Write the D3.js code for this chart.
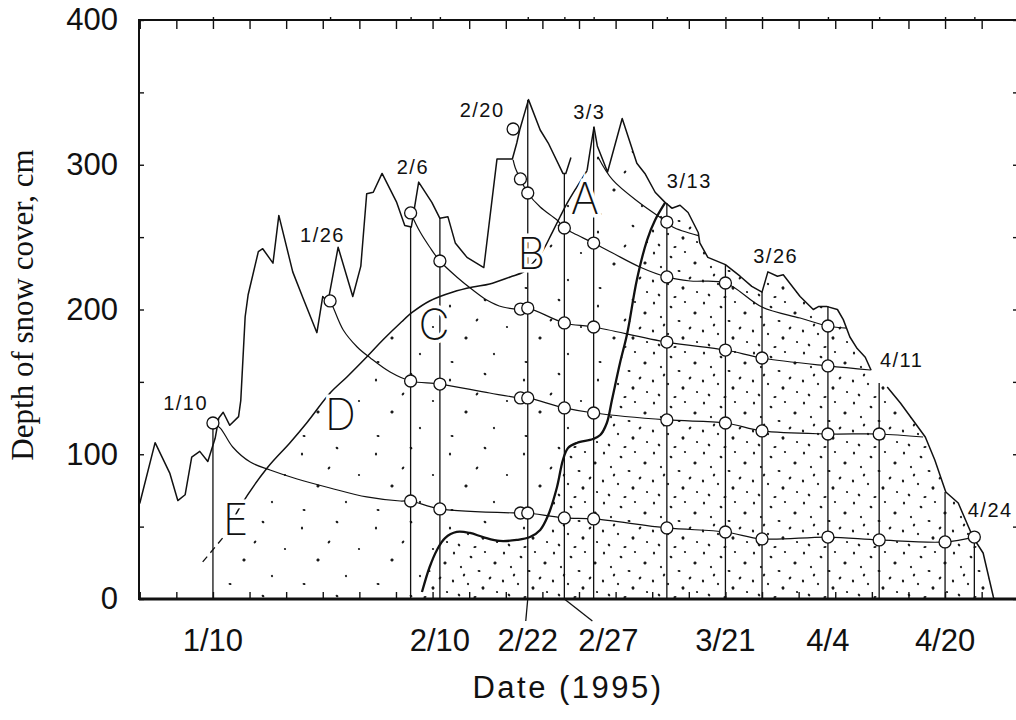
<!DOCTYPE html>
<html>
<head>
<meta charset="utf-8">
<script src="https://cdn.jsdelivr.net/npm/d3@7"></script>
<style>
body { margin: 0; background: #fff; }
</style>
</head>
<body>
<div id="chart"></div>
<script>
var w = 1016;
var h = 720;
var frame = {left: 139, top: 20, right: 1019, bottom: 599};

// dates are day of year 1995 (1/1 = 1), depth in cm
var depthTicks = [0, 100, 200, 300, 400];
var dateTicks = [10, 41, 53, 58, 80, 94, 110];
var dateTickLabels = ["1/10", "2/10", "2/22", "2/27", "3/21", "4/4", "4/20"];

// snow surface, three traced pieces
var surface1 = [[0,66],[2.1,108],[4.1,87],[5.2,68],[6.2,72],[7.1,98],[8.2,102],[9.3,95],[10.3,111],[10.8,125],[11.4,129],[12.3,120],[13.5,126],[13.8,137],[14.4,195],[14.8,210],[16.2,240],[16.8,242],[18.2,232],[19.0,265],[20.9,226],[22.3,208],[24.2,184],[25.0,209],[25.7,205],[27.1,243],[29.1,209],[30.2,230],[31.0,280],[31.9,281],[33.1,294],[35.1,274],[36.2,258],[37.1,257],[38.1,288],[39.9,274],[41.0,263],[42.1,264],[43.1,246],[44.7,236],[47.0,229],[48.8,304],[50.9,304],[51.5,315],[51.9,324],[53.1,345],[54.7,324],[55.8,315],[57.8,294],[58.2,294],[58.9,305]];
var surface2 = [[61.1,296],[61.5,309],[62.05,326],[62.5,313],[63.9,295],[65.9,332],[67.9,301],[69.0,294],[70.4,281],[71.75,274],[72.7,270],[73.8,272],[74.9,267],[76.3,253],[76.5,246],[77.6,236],[80.0,231],[82.0,223],[83.6,216],[85.0,212],[85.8,226],[87.1,223],[87.9,224],[90.2,209],[92.0,200],[92.7,202],[93.9,202],[95.3,200],[96.1,193],[97.0,181],[98.0,173],[99.1,167],[99.9,158]];
var surface3 = [[102.1,146.5],[103.9,135.4],[105.6,123.7],[107.3,111.9],[108.6,96],[110.1,73.9],[111.8,66.3],[113.8,42.8],[115.2,31.8],[116.6,1.4],[116.7,0]];

// boundary of old snow (A-E), dashed start
var boundaryDash = [[8.6,25.6],[11.9,45.6]];
var boundary = [[11.9,45.6],[13.7,63.6],[17.4,90.5],[20.5,107.8],[22.8,121.6],[26.0,142.3],[28.3,153.4],[31.0,167.2],[33.2,178.9],[35.6,190.7],[37.3,198.3],[39.6,205.9],[42.8,212.1],[45.5,215.5],[47.8,217.6],[50.6,222.5],[52.4,225.9],[53.7,232.1],[55.1,241.1],[56.3,252.8],[57.4,263.9],[58.4,273.6],[59.7,284.6],[61.1,296]];

// front of the densely dotted zone
var wetFront = [[38.55,4.8],[39.6,22.1],[40.6,33.9],[41.7,42.1],[43.3,46.3],[45.1,45.6],[46.9,42.8],[49.2,40.1],[51.5,40.8],[53.3,42.8],[54.7,47.7],[55.8,58.0],[57.0,77.4],[57.8,96.0],[58.5,104.3],[59.7,107.8],[61.9,110.5],[62.9,113.3],[63.8,121.6],[64.5,137.5],[65.6,163.0],[66.6,183.8],[67.9,220.4],[69.3,248.0],[70.4,261.8],[71.75,273.6]];

// layer tracking lines
var layer0110 = [[10,121.6],[11.0,118.1],[12.7,105.0],[15.1,94.6],[17.8,89.1],[21.5,82.9],[26.0,76.7],[31.0,70.5],[35.6,67.7],[37,67.7],[41,62.2],[52,59.4],[53,59.4],[58,56.0],[62,55.3],[72,49.1],[80,46.3],[85,41.5],[94,42.8],[101,40.8],[110,39.4],[114,42.8]];
var layer0126 = [[26,205.9],[26.4,201.7],[27.8,185.8],[29.7,174.1],[31.5,166.5],[34.2,156.8],[37,150.6],[41,148.5],[47.8,142.3],[52,138.9],[53,138.9],[58,132.0],[62,128.5],[72,123.7],[80,121.6],[85,116.1],[94,114.0],[101,114.0],[107,111.9]];
var layer0206 = [[37,266.7],[38.3,253.5],[39.6,243.2],[41,233.5],[43.3,222.5],[45.5,213.5],[47.4,206.6],[49.6,201.7],[52,200.3],[53,201.0],[58,190.7],[62,187.9],[72,177.5],[80,172.0],[85,166.5],[94,161.0],[99.8,158.2]];
var layer0220 = [[51.0,303.3],[51.3,297.8],[52,290.2],[53,280.5],[54.7,270.8],[57.0,261.8],[58,256.3],[59.2,252.8],[62,245.9],[64.6,239.0],[68.3,229.4],[72,222.5],[75.2,219.7],[80,218.3],[85,201.7],[90.2,194.1],[94,188.6],[96.6,187.2]];
var layer0303 = [[62.6,305.4],[64.6,289.5],[68.3,273.6],[72,260.4],[72.8,257.0],[76.3,251]];

// pit observations
var pitDates = [10, 37, 41, 53, 58, 62, 72, 80, 85, 94, 101, 110, 114];
var pitTops = [121.6, 257.7, 263.2, 344.7, 294.3, 326.1, 273.6, 230.7, 212.1, 202.4, 149.2, 73.9, 42.8];
var markDates = [10, 26, 37, 41, 53, 58, 62, 72, 80, 85, 94, 101, 110, 114];

var circles = [[10,121.6],[26,205.9],[37,266.7],[37,150.6],[37,67.7],[41,233.5],[41,148.5],[41,62.2],[51,324.7],[52,290.2],[52,200.3],[52,138.9],[52,59.4],[53,280.5],[53,201.0],[53,138.9],[53,59.4],[58,256.3],[58,190.7],[58,132.0],[58,56.0],[62,245.9],[62,187.9],[62,128.5],[62,55.3],[72,260.4],[72,222.5],[72,177.5],[72,123.7],[72,49.1],[80,218.3],[80,172.0],[80,121.6],[80,46.3],[85,166.5],[85,116.1],[85,41.5],[94,188.6],[94,161.0],[94,114.0],[94,42.8],[101,114.0],[101,40.8],[110,39.4],[114,42.8]];

var pitLabels = ["1/10", "1/26", "2/6", "2/20", "3/3", "3/13", "3/26", "4/11", "4/24"];
var pitLabelPos = [[3.2,130.6],[21.9,246.6],[35.1,293.6],[43.7,333.0],[59.2,331.6],[72.0,283.9],[83.8,232.1],[101.1,160.3],[113.1,56.6]];

var layerNames = ["A", "B", "C", "D", "E"];
var layerNamePos = [[60.8,266.0],[53.5,228.0],[40.2,179.1],[27.4,116.7],[13.1,44.2]];

var svg = d3.select("#chart")
	.append("svg")
	.attr("width", w)
	.attr("height", h)
	.style("background", "#fff");

var x = d3.scaleLinear()
	.domain([-0.1, 120.1])
	.range([frame.left, frame.right]);

var y = d3.scaleLinear()
	.domain([0, 400])
	.range([frame.bottom, frame.top]);

var lin = d3.line()
	.x(function(d) { return x(d[0]); })
	.y(function(d) { return y(d[1]); });

var smooth = d3.line()
	.x(function(d) { return x(d[0]); })
	.y(function(d) { return y(d[1]); })
	.curve(d3.curveCatmullRom.alpha(0.5));

// stipple patterns
var defs = svg.append("defs");
function stipple(id, size, dots) {
	var p = defs.append("pattern")
		.attr("id", id)
		.attr("patternUnits", "userSpaceOnUse")
		.attr("width", size)
		.attr("height", size);
	dots.forEach(function(d, i) {
		p.append("ellipse")
			.attr("cx", d[0])
			.attr("cy", d[1])
			.attr("rx", i % 2 ? 1.5 : 1.1)
			.attr("ry", i % 3 ? 1.1 : 1.6)
			.attr("transform", "rotate(" + (i * 37) + "," + d[0] + "," + d[1] + ")")
			.attr("fill", "#1a1a1a");
	});
}
stipple("sparse", 74, [[6,10],[41,4],[63,31],[22,42],[50,58],[8,66],[33,24]]);
stipple("dense", 50, [[4,3],[21,7],[35,2],[45,13],[11,17],[29,21],[40,28],[3,31],[18,34],[33,38],[47,42],[9,45],[25,47],[14,25]]);

var junction = surface2.filter(function(d) { return d[0] <= 71.75; });
var afterJunction = surface2.filter(function(d) { return d[0] > 71.75; });

var sparsePoly = [[boundaryDash[0][0], 0]]
	.concat(boundaryDash, boundary.slice(1), junction.slice(1), wetFront.slice().reverse(), [[wetFront[0][0], 0]]);
var densePoly = wetFront.concat(afterJunction, surface3, [[wetFront[0][0], 0]]);

svg.append("path")
	.attr("d", lin(sparsePoly) + "Z")
	.attr("fill", "url(#sparse)");
svg.append("path")
	.attr("d", lin(densePoly) + "Z")
	.attr("fill", "url(#dense)");

// axes
var dayTicks = d3.range(0, 121, 5);
svg.append("g")
	.attr("transform", "translate(0," + frame.bottom + ")")
	.call(d3.axisBottom(x).tickValues(dayTicks).tickSize(-7).tickFormat(""))
	.call(function(g) { g.select(".domain").remove(); });
svg.append("g")
	.attr("transform", "translate(0," + frame.top + ")")
	.call(d3.axisTop(x).tickValues(dayTicks).tickSize(-9).tickFormat(""))
	.call(function(g) { g.select(".domain").remove(); });
svg.append("g")
	.attr("transform", "translate(0," + frame.top + ")")
	.call(d3.axisTop(x).tickValues(markDates).tickSize(3).tickFormat(""))
	.call(function(g) { g.select(".domain").remove(); });
svg.append("g")
	.attr("transform", "translate(" + frame.left + ",0)")
	.call(d3.axisLeft(y).tickValues(d3.range(0, 401, 50)).tickSize(-5).tickFormat(""))
	.call(function(g) { g.select(".domain").remove(); });
svg.append("g")
	.attr("transform", "translate(" + frame.right + ",0)")
	.call(d3.axisRight(y).tickValues(d3.range(0, 401, 50)).tickSize(-6).tickFormat(""))
	.call(function(g) { g.select(".domain").remove(); });
svg.selectAll(".tick line").attr("stroke", "#111").attr("stroke-width", 1.4);

svg.append("g")
	.attr("transform", "translate(" + frame.left + ",0)")
	.call(d3.axisLeft(y).tickValues(depthTicks).tickSize(0).tickPadding(21))
	.call(function(g) {
		g.select(".domain").remove();
		g.selectAll("text")
			.attr("font-family", "'Liberation Sans', Arial, sans-serif")
			.attr("font-size", 31)
			.attr("fill", "#111");
	});

svg.append("rect")
	.attr("x", frame.left)
	.attr("y", frame.top)
	.attr("width", frame.right - frame.left)
	.attr("height", frame.bottom - frame.top)
	.attr("fill", "none")
	.attr("stroke", "#111")
	.attr("stroke-width", 2);
svg.append("line")
	.attr("x1", frame.left).attr("x2", frame.right)
	.attr("y1", frame.bottom).attr("y2", frame.bottom)
	.attr("stroke", "#111")
	.attr("stroke-width", 3);

// date labels under axis
var labelShift = {"2/27": 44};
svg.selectAll(".dlab")
	.data(dateTicks)
	.enter()
	.append("text")
	.attr("x", function(d, i) { return x(d) + (labelShift[dateTickLabels[i]] || 0); })
	.attr("y", 651)
	.attr("text-anchor", "middle")
	.attr("font-family", "'Liberation Sans', Arial, sans-serif")
	.attr("font-size", 31)
	.attr("fill", "#111")
	.text(function(d, i) { return dateTickLabels[i]; });

// leaders for 2/22 and 2/27
svg.append("line")
	.attr("x1", x(53)).attr("y1", frame.bottom)
	.attr("x2", x(53) - 2).attr("y2", frame.bottom + 22)
	.attr("stroke", "#111").attr("stroke-width", 1.3);
svg.append("line")
	.attr("x1", x(58)).attr("y1", frame.bottom)
	.attr("x2", x(58) + 28).attr("y2", frame.bottom + 22)
	.attr("stroke", "#111").attr("stroke-width", 1.3);

// pit verticals
svg.selectAll(".pit")
	.data(pitDates)
	.enter()
	.append("line")
	.attr("x1", function(d) { return x(d); })
	.attr("x2", function(d) { return x(d); })
	.attr("y1", function(d, i) { return y(pitTops[i]); })
	.attr("y2", y(0))
	.attr("stroke", "#111")
	.attr("stroke-width", 1.3);

// layer lines
[layer0110, layer0126, layer0206, layer0220, layer0303].forEach(function(l) {
	svg.append("path")
		.attr("d", smooth(l))
		.attr("fill", "none")
		.attr("stroke", "#111")
		.attr("stroke-width", 1.2);
});

// surface
[surface1, surface2, surface3].forEach(function(s) {
	svg.append("path")
		.attr("d", lin(s))
		.attr("fill", "none")
		.attr("stroke", "#111")
		.attr("stroke-width", 1.5)
		.attr("stroke-linejoin", "round");
});

svg.append("path")
	.attr("d", lin(boundaryDash))
	.attr("fill", "none")
	.attr("stroke", "#111")
	.attr("stroke-width", 1.3)
	.attr("stroke-dasharray", "7,5");
svg.append("path")
	.attr("d", smooth(boundary))
	.attr("fill", "none")
	.attr("stroke", "#111")
	.attr("stroke-width", 1.5);

svg.append("path")
	.attr("d", smooth(wetFront))
	.attr("fill", "none")
	.attr("stroke", "#111")
	.attr("stroke-width", 2.3);

// circles
svg.selectAll(".obs")
	.data(circles)
	.enter()
	.append("circle")
	.attr("cx", function(d) { return x(d[0]); })
	.attr("cy", function(d) { return y(d[1]); })
	.attr("r", 6)
	.attr("fill", "#fff")
	.attr("stroke", "#111")
	.attr("stroke-width", 1.3);

// pit date labels
svg.selectAll(".plab")
	.data(pitLabels)
	.enter()
	.append("text")
	.attr("x", function(d, i) { return x(pitLabelPos[i][0]); })
	.attr("y", function(d, i) { return y(pitLabelPos[i][1]); })
	.attr("font-family", "'Liberation Sans', Arial, sans-serif")
	.attr("font-size", 20)
	.attr("letter-spacing", 1.5)
	.attr("fill", "#111")
	.text(function(d) { return d; });

// layer letters
svg.selectAll(".lname")
	.data(layerNames)
	.enter()
	.append("text")
	.attr("x", function(d, i) { return x(layerNamePos[i][0]); })
	.attr("y", function(d, i) { return y(layerNamePos[i][1]); })
	.attr("text-anchor", "middle")
	.attr("font-family", "Inter, Roboto, 'Liberation Sans', sans-serif")
	.attr("font-weight", 200)
	.attr("font-size", 43)
	.attr("fill", "#111")
	.attr("stroke", "#fff")
	.attr("stroke-width", 7)
	.attr("paint-order", "stroke")
	.text(function(d) { return d; });

// titles
svg.append("text")
	.attr("x", 568)
	.attr("y", 698)
	.attr("text-anchor", "middle")
	.attr("font-family", "'Liberation Sans', Arial, sans-serif")
	.attr("font-size", 31)
	.attr("letter-spacing", 2.5)
	.attr("fill", "#111")
	.text("Date (1995)");

svg.append("text")
	.attr("transform", "translate(33,305) rotate(-90)")
	.attr("text-anchor", "middle")
	.attr("font-family", "'Liberation Serif', 'Times New Roman', serif")
	.attr("font-size", 31)
	.attr("fill", "#111")
	.text("Depth of snow cover, cm");
</script>
</body>
</html>
